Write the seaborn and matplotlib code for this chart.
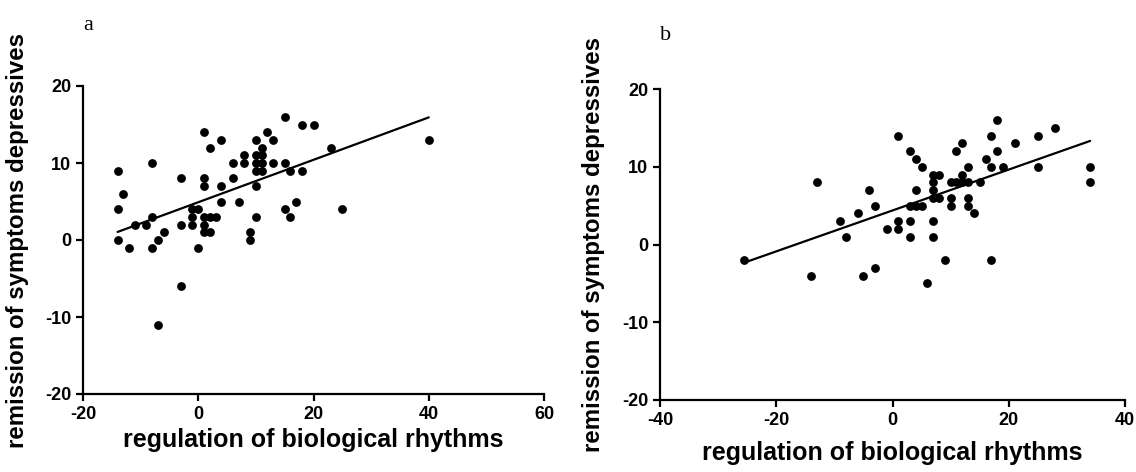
import numpy as np
import pandas as pd
import matplotlib
matplotlib.use('Agg')
import matplotlib.pyplot as plt
import seaborn as sns

# panel a: regulation of biological rhythms vs remission of depressive symptoms
a_x = [-14, -13, -14, -14, -12, -11, -9, -8, -8, -8, -7, -6, -3, -3, -1, -1, -1, 0, 0,
       1, 1, 1, 1, 1, 1, 2, 2, 3, 2, 4, 4, 4, 6, 6, 7, 8, 8, 9, 9,
       10, 10, 10, 10, 10, 10, 11, 11, 11, 11, 12, 13, 13, 15, 18, 20, 15, 16, 18,
       23, 40, 17, 15, 16, 25, -3, -7]
a_y = [9, 6, 4, 0, -1, 2, 2, 3, 10, -1, 0, 1, 8, 2, 4, 3, 2, 4, -1,
       14, 8, 7, 3, 2, 1, 12, 3, 3, 1, 13, 7, 5, 10, 8, 5, 11, 10, 1, 0,
       13, 11, 10, 9, 7, 3, 12, 11, 10, 9, 14, 13, 10, 16, 15, 15, 10, 9, 9,
       12, 13, 5, 4, 3, 4, -6, -11]

# panel b
b_x = [-25.5, -13, -14, -9, -8, -6, -4, -3, -1, -5, -3, 1, 1, 1, 3, 4, 5, 4, 3, 4, 5, 3, 3,
       6, 7, 8, 7, 7, 7, 8, 7, 7, 9, 10, 10, 10, 11, 12, 11, 12, 12, 13, 13, 13, 13,
       14, 15, 16, 17, 17, 18, 17, 18, 19, 21, 25, 28, 25, 34, 34]
b_y = [-2, 8, -4, 3, 1, 4, 7, 5, 2, -4, -3, 14, 3, 2, 12, 11, 10, 7, 5, 5, 5, 3, 1,
       -5, 9, 9, 8, 7, 6, 6, 3, 1, -2, 8, 6, 5, 12, 13, 8, 8, 9, 10, 8, 6, 5,
       4, 8, 11, -2, 14, 16, 10, 12, 10, 13, 14, 15, 10, 10, 8]

df_a = pd.DataFrame({'rhythms': a_x, 'remission': a_y})
df_b = pd.DataFrame({'rhythms': b_x, 'remission': b_y})

sns.set_style('ticks')
plt.rcParams['font.family'] = ['Liberation Sans', 'DejaVu Sans']
plt.rcParams['axes.unicode_minus'] = False
for key in ['text.color', 'axes.labelcolor', 'xtick.color', 'ytick.color', 'axes.edgecolor']:
    plt.rcParams[key] = 'black'

fig = plt.figure(figsize=(11.36, 4.72), dpi=100)
ax_a = fig.add_axes([83 / 1136, 1 - 394 / 472, 461 / 1136, 308 / 472])
ax_b = fig.add_axes([660 / 1136, 1 - 400 / 472, 465 / 1136, 311 / 472])


def draw_panel(ax, data, xlim, xticks, ylab_x, xlab_y):
    sns.regplot(x='rhythms', y='remission', data=data, ax=ax, ci=None,
                scatter_kws={'s': 40, 'color': 'black', 'alpha': 1, 'linewidths': 0},
                line_kws={'color': 'black', 'linewidth': 1.6})
    ax.set_xlim(*xlim)
    ax.set_ylim(-20, 20)
    ax.set_xticks(xticks)
    ax.set_yticks([-20, -10, 0, 10, 20])
    sns.despine(ax=ax)
    for side in ['left', 'bottom']:
        ax.spines[side].set_linewidth(1.6)
    ax.tick_params(direction='out', length=5, width=1.6, labelsize=13)
    for lab in ax.get_xticklabels() + ax.get_yticklabels():
        lab.set_fontweight('bold')
    ax.set_xlabel('regulation of biological rhythms', fontsize=18, fontweight='bold')
    ax.set_ylabel('remission of symptoms depressives', fontsize=17.3, fontweight='bold')
    ax.yaxis.set_label_coords(ylab_x, 0.5)
    ax.xaxis.set_label_coords(0.5, xlab_y)


draw_panel(ax_a, df_a, (-20, 60), [-20, 0, 20, 40, 60], -0.117, -0.11)
draw_panel(ax_b, df_b, (-40, 40), [-40, -20, 0, 20, 40], -0.118, -0.132)

serif = ['Liberation Serif', 'DejaVu Serif']
fig.text(88 / 1136, 1 - 26 / 472, 'a', fontsize=16, family=serif, ha='center', va='center')
fig.text(666 / 1136, 1 - 36 / 472, 'b', fontsize=16, family=serif, ha='center', va='center')

plt.savefig('out.png', dpi=100)
